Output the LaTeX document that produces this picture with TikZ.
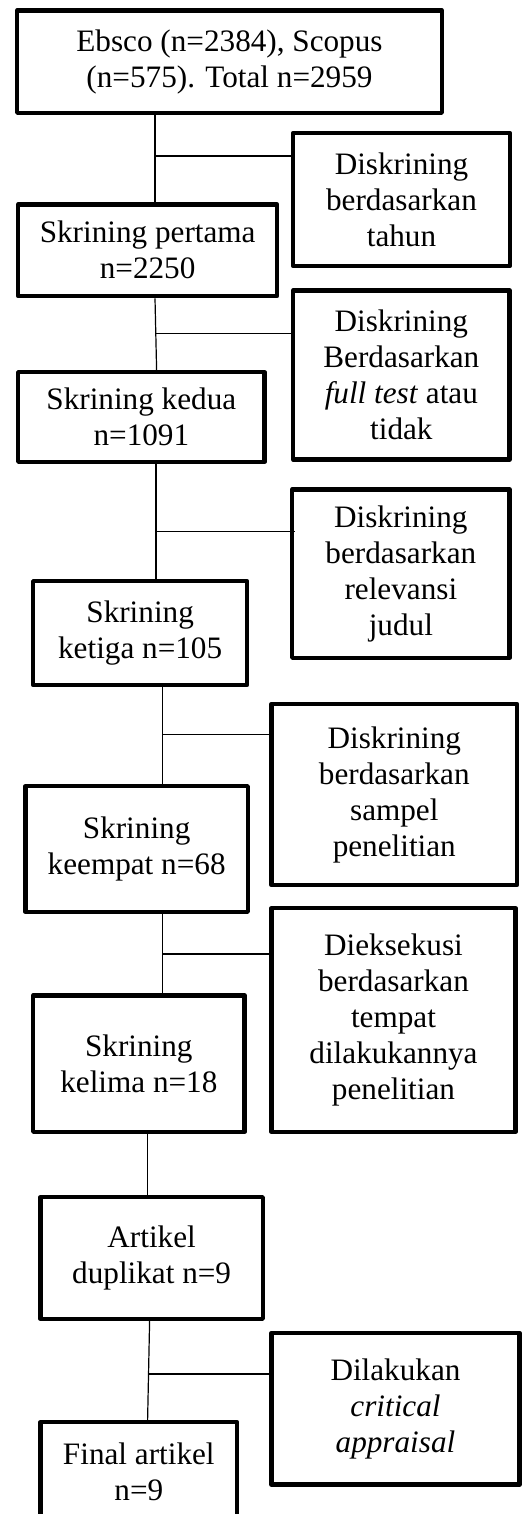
\documentclass[tikz,border=0pt]{standalone}
\usepackage{fontspec}
\setmainfont{Liberation Serif}
\begin{document}
\begin{tikzpicture}[x=1pt,y=-1pt,
  boxnode/.style={draw=black, line width=4.4pt, line join=round, inner sep=0pt,
    align=center, font=\fontsize{31.2}{36}\selectfont, text=black},
  link/.style={draw=black, line width=1.2pt}]
\useasboundingbox (0,0) rectangle (531,1514);
\clip (0,0) rectangle (531,1514);
% left column
\node[boxnode, minimum width=424.6pt, minimum height=102.3pt] (A) at (229.5,61.65) {Ebsco (n=2384), Scopus\\(n=575). Total n=2959};
\node[boxnode, minimum width=258.9pt, minimum height=91.6pt] (C) at (147.65,250.3) {Skrining pertama\\n=2250};
\node[boxnode, minimum width=246.3pt, minimum height=89.6pt] (E) at (141.35,417) {Skrining kedua\\n=1091};
\node[boxnode, minimum width=213.9pt, minimum height=103.9pt] (G) at (140.15,633.15) {Skrining\\ketiga n=105};
\node[boxnode, minimum width=222.3pt, minimum height=125.6pt] (I) at (136.65,849) {Skrining\\keempat n=68};
\node[boxnode, minimum width=211.3pt, minimum height=136.3pt] (K) at (138.85,1063.65) {Skrining\\kelima n=18};
\node[boxnode, minimum width=222.3pt, minimum height=121.6pt] (L) at (151.65,1258) {Artikel\\duplikat n=9};
\node[boxnode, minimum width=196.6pt, minimum height=99.6pt] (N) at (138.8,1472) {Final artikel\\n=9};
% right column
\node[boxnode, minimum width=216.6pt, minimum height=133.2pt] (B) at (401.5,199.5) {Diskrining\\berdasarkan\\tahun};
\node[boxnode, minimum width=216.3pt, minimum height=169pt] (D) at (401.35,375) {Diskrining\\Berdasarkan\\\textit{full test} atau\\tidak};
\node[boxnode, minimum width=217.3pt, minimum height=168.3pt] (F) at (400.85,573.65) {Diskrining\\berdasarkan\\relevansi\\judul};
\node[boxnode, minimum width=245.6pt, minimum height=181.2pt] (H) at (394.3,794.5) {Diskrining\\berdasarkan\\sampel\\penelitian};
\node[boxnode, minimum width=244pt, minimum height=223.6pt] (J) at (393.5,1020) {Dieksekusi\\berdasarkan\\tempat\\dilakukannya\\penelitian};
\node[boxnode, minimum width=248pt, minimum height=151.6pt] (M) at (395.5,1408.7) {Dilakukan\\\textit{critical}\\\textit{appraisal}};
% junction coordinates
\coordinate (j1) at (155,156);
\coordinate (j2) at (155.8,333.3);
\coordinate (j3) at (156,531.7);
\coordinate (j4) at (162.3,734.3);
\coordinate (j5) at (162.3,954);
\coordinate (j6) at (147.7,1260);
\coordinate (j7) at (148.6,1374);
% connectors
\draw[link] (A.south -| j1) -- (C.north -| j1);
\draw[link] (j1) -- (B.west |- j1);
\draw[link] ([xshift=-0.8pt]C.south -| j2) -- ([xshift=0.8pt]E.north -| j2);
\draw[link] (j2) -- (D.west |- j2);
\draw[link] (E.south -| j3) -- (G.north -| j3);
\draw[link] (j3) -- ([xshift=5pt]F.west |- j3);
\draw[link] (G.south -| j4) -- (I.north -| j4);
\draw[link] (j4) -- (H.west |- j4);
\draw[link] (I.south -| j5) -- (K.north -| j5);
\draw[link] (j5) -- ([xshift=4.5pt]J.west |- j5);
\draw[link] (K.south -| j6) -- (L.north -| j6);
\draw[link] ([xshift=1pt]L.south -| j7) -- ([xshift=-1pt]N.north -| j7);
\draw[link] (j7) -- (M.west |- j7);
\end{tikzpicture}
\end{document}
